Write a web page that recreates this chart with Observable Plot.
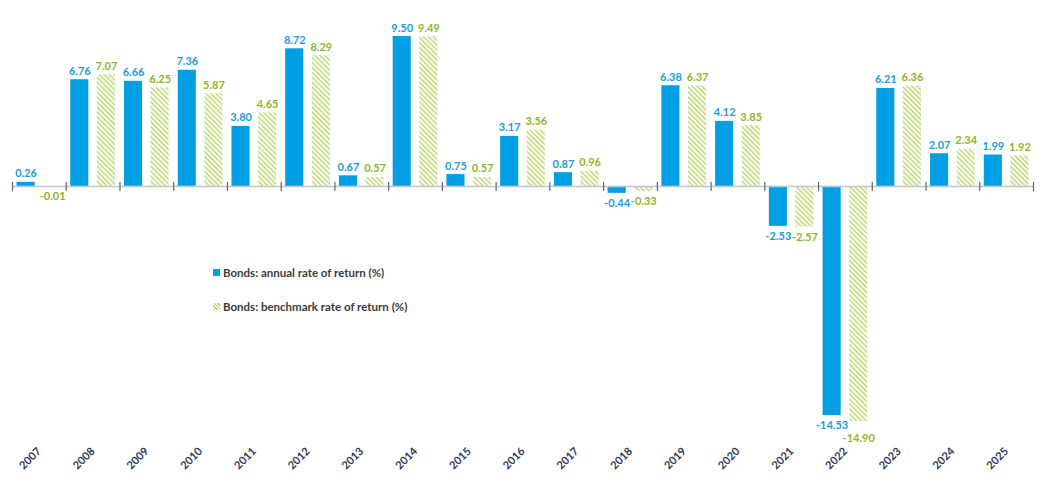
<!DOCTYPE html>
<html>
<head>
<meta charset="utf-8">
<script src="https://cdn.jsdelivr.net/npm/d3@7"></script>
<script src="https://cdn.jsdelivr.net/npm/@observablehq/plot@0.6"></script>
<style>
  html, body { margin: 0; padding: 0; background: #fff; }
  #wrap { position: relative; width: 1046px; height: 483px; font-family: Lato, "Open Sans", sans-serif; }
  #legend { position: absolute; left: 213px; top: 264px; font-size: 11.5px; font-weight: 700; color: #3c3c3c; }
  #legend div { display: flex; align-items: center; height: 16px; margin-bottom: 18px; }
  #legend .sw { width: 7px; height: 7px; margin-right: 3px; display: inline-block; }
</style>
</head>
<body>
<div id="wrap"><div id="legend"></div></div>
<script>
const years = ["2007","2008","2009","2010","2011","2012","2013","2014","2015","2016","2017","2018","2019","2020","2021","2022","2023","2024","2025"];
const annual = [0.26, 6.76, 6.66, 7.36, 3.80, 8.72, 0.67, 9.50, 0.75, 3.17, 0.87, -0.44, 6.38, 4.12, -2.53, -14.53, 6.21, 2.07, 1.99];
const benchmark = [-0.01, 7.07, 6.25, 5.87, 4.65, 8.29, 0.57, 9.49, 0.57, 3.56, 0.96, -0.33, 6.37, 3.85, -2.57, -14.90, 6.36, 2.34, 1.92];
const seriesNames = ["Bonds: annual rate of return (%)", "Bonds: benchmark rate of return (%)"];

const blue = "#009fe3", blueText = "#1c9dd9";
const greenText = "#8db71f", hatchLine = "#b3d15f";

const rowsA = years.map((year, i) => ({year, series: seriesNames[0], value: annual[i]}));
const rowsB = years.map((year, i) => ({year, series: seriesNames[1], value: benchmark[i]}));
const fmt = d => d.value.toFixed(2);

const tickShape = {draw(context, l) { context.moveTo(0, 0); context.lineTo(0, -l); }};
const labelStyle = {fx: "year", x: "series", y: "value", text: fmt, fontWeight: 700, fontSize: 11};

const chart = Plot.plot({
  width: 1046,
  height: 483,
  marginLeft: 12,
  marginRight: 13,
  marginTop: 36,
  marginBottom: 62,
  style: {fontFamily: "Lato, 'Open Sans', sans-serif", background: "transparent"},
  fx: {domain: years, padding: 0, round: false, label: null},
  x: {domain: seriesNames, paddingInner: 0.32, paddingOuter: 0.17, round: false, axis: null},
  y: {domain: [-14.9, 9.5], axis: null},
  marks: [
    Plot.barY(rowsA, {fx: "year", x: "series", y: "value", fill: blue}),
    Plot.barY(rowsB, {fx: "year", x: "series", y: "value", fill: "url(#hatch)"}),
    Plot.ruleY([0], {stroke: "#c2c6cc", strokeWidth: 1.5}),
    Plot.vector(years, {fx: d => d, y: () => 0, frameAnchor: "left", length: 8, anchor: "middle", shape: tickShape, stroke: "#5c6576", strokeWidth: 1.2}),
    Plot.vector(years.slice(-1), {fx: d => d, y: () => 0, frameAnchor: "right", length: 8, anchor: "middle", shape: tickShape, stroke: "#5c6576", strokeWidth: 1.2}),
    Plot.text(rowsA.filter(d => d.value >= 0), {...labelStyle, lineAnchor: "bottom", dy: -5, fill: blueText}),
    Plot.text(rowsA.filter(d => d.value < 0), {...labelStyle, lineAnchor: "top", dy: 6, fill: blueText}),
    Plot.text(rowsB.filter(d => d.value >= 0), {...labelStyle, lineAnchor: "bottom", dy: -5, fill: greenText}),
    Plot.text(rowsB.filter(d => d.value < 0 && d.value > -10), {...labelStyle, lineAnchor: "top", dy: 6, fill: greenText}),
    // label pushed down where it would collide with its neighbour (as in the original)
    Plot.text(rowsB.filter(d => d.value <= -10), {...labelStyle, lineAnchor: "top", dy: 13, fill: greenText}),
    Plot.axisFx({anchor: "bottom", tickRotate: -45, tickSize: 0, tickPadding: 28, fontWeight: 700, fontSize: 11, fill: "#2e3a58", label: null})
  ]
});

// hatch pattern definition
const ns = "http://www.w3.org/2000/svg";
const defs = document.createElementNS(ns, "defs");
defs.innerHTML = `<pattern id="hatch" patternUnits="userSpaceOnUse" width="3.5" height="3.5" patternTransform="rotate(-45)">
  <rect width="3.5" height="3.5" fill="#f4f8e8"></rect>
  <line x1="0" y1="0" x2="0" y2="3.5" stroke="${hatchLine}" stroke-width="2"></line>
</pattern>`;
chart.insertBefore(defs, chart.firstChild);

const wrap = document.getElementById("wrap");
wrap.insertBefore(chart, wrap.firstChild);

// legend
const legend = document.getElementById("legend");
const swatches = [
  `background:${blue}`,
  `background: repeating-linear-gradient(45deg, ${hatchLine} 0 1.2px, #f4f8e8 1.2px 2.5px)`
];
seriesNames.forEach((name, i) => {
  const row = document.createElement("div");
  const sw = document.createElement("span");
  sw.className = "sw";
  sw.setAttribute("style", swatches[i]);
  row.appendChild(sw);
  row.appendChild(document.createTextNode(name));
  legend.appendChild(row);
});
</script>
</body>
</html>
